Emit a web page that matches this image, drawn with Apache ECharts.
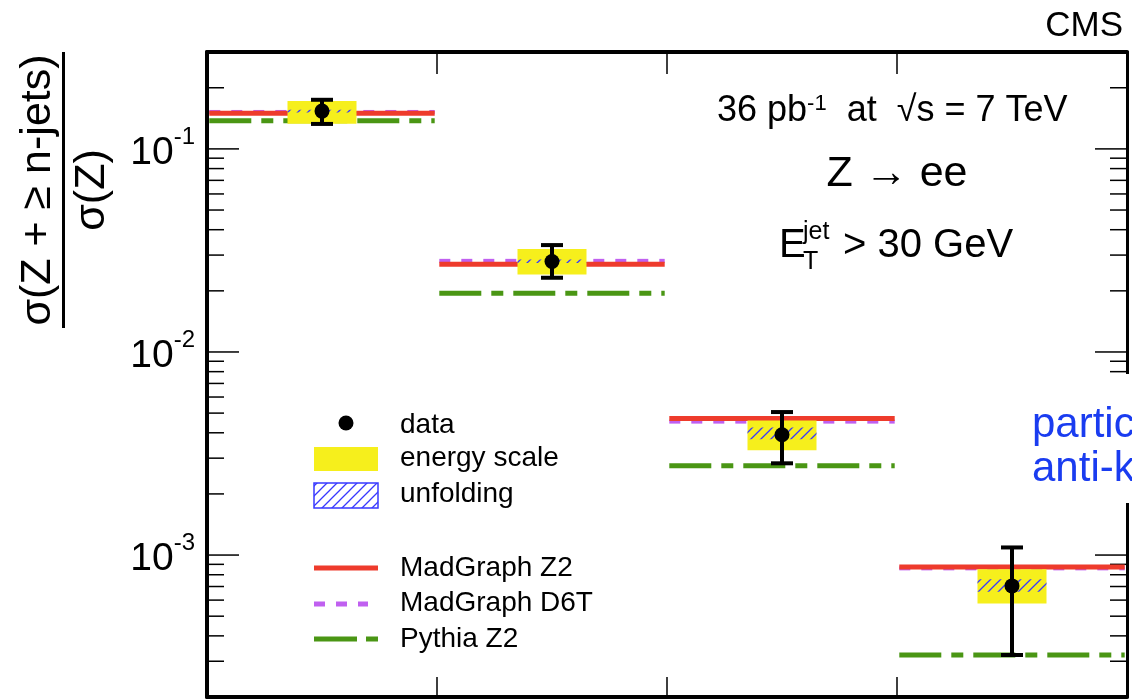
<!DOCTYPE html>
<html>
<head>
<meta charset="utf-8">
<script src="https://cdn.jsdelivr.net/npm/echarts@6/dist/echarts.min.js"></script>
<style>
html, body { margin: 0; padding: 0; background: #fff; }
#main { width: 1132px; height: 699px; }
</style>
</head>
<body>
<div id="main"></div>
<script>
// 喷注数 n (Z + >= n jets)
var nJets = [1, 2, 3, 4]
// 测量值及总误差
var dataVal = [0.1535, 0.0279, 0.00391, 0.000705]
var errHigh = [0.1745, 0.0336, 0.00506, 0.00109]
var errLow = [0.1327, 0.0232, 0.00283, 0.000322]
// 能标不确定度 (黄色)
var escaleHigh = [0.172, 0.0321, 0.00460, 0.000851]
var escaleLow = [0.133, 0.0241, 0.00328, 0.000577]
// unfolding 不确定度 (蓝色斜线)
var unfoldHigh = [0.156, 0.0285, 0.00425, 0.00076]
var unfoldLow = [0.151, 0.0274, 0.00372, 0.00066]
// 理论预测
var madZ2 = [0.1496, 0.0270, 0.00471, 0.000873]
var madD6T = [0.152, 0.0281, 0.00454, 0.00086]
var pythiaZ2 = [0.1377, 0.01945, 0.00275, 0.000322]
// 坐标轴刻度
var yMajorTicks = [0.001, 0.01, 0.1]
var yMinorTicks = [0.0002, 0.0003, 0.0004, 0.0005, 0.0006, 0.0007, 0.0008, 0.0009,
    0.002, 0.003, 0.004, 0.005, 0.006, 0.007, 0.008, 0.009,
    0.02, 0.03, 0.04, 0.05, 0.06, 0.07, 0.08, 0.09, 0.2]
var xTicks = [1.5, 2.5, 3.5]

var FONT = '"Liberation Sans", Arial, Helvetica, sans-serif'
var RED = '#ee3b2c'
var PURPLE = '#c060f0'
var GREEN = '#4a9614'
var YELLOW = '#f6ef1c'
var HATCH = '#3838ff'

var dom = document.getElementById('main')
var myChart = echarts.init(dom)

// 斜线填充
function makeHatch(bg) {
    var c = document.createElement('canvas')
    c.width = 10
    c.height = 10
    var ctx = c.getContext('2d')
    if (bg) {
        ctx.fillStyle = bg
        ctx.fillRect(0, 0, 10, 10)
    }
    ctx.strokeStyle = HATCH
    ctx.lineWidth = 1.3
    ctx.beginPath()
    ctx.moveTo(0, 10); ctx.lineTo(10, 0)
    ctx.moveTo(-3, 3); ctx.lineTo(3, -3)
    ctx.moveTo(7, 13); ctx.lineTo(13, 7)
    ctx.stroke()
    return c
}
var hatchFill = { image: makeHatch(null), repeat: 'repeat' }
var hatchFillLegend = { image: makeHatch('#ffffff'), repeat: 'repeat' }

// 误差带方框
function boxRender(style) {
    return function (params, api) {
        var n = api.value(0)
        var p1 = api.coord([n - 0.15, api.value(1)])
        var p2 = api.coord([n + 0.15, api.value(2)])
        return {
            type: 'rect',
            shape: { x: p1[0], y: p2[1], width: p2[0] - p1[0], height: p1[1] - p2[1] },
            style: style
        }
    }
}

// 理论预测水平线
function lineRender(style) {
    return function (params, api) {
        var n = api.value(0)
        var a = api.coord([n - 0.49, api.value(1)])
        var b = api.coord([n + 0.49, api.value(1)])
        return {
            type: 'line',
            shape: { x1: a[0], y1: a[1], x2: b[0], y2: b[1] },
            style: style
        }
    }
}

function buildSeries(arr) {
    return nJets.map(function (n, i) { return [n, arr[i]] })
}

function getOption() {
    return {
        backgroundColor: '#ffffff',
        animation: false,
        grid: { left: 207, right: 5, top: 52, bottom: 2 },
        xAxis: [{
            type: 'value', min: 0.5, max: 4.5, position: 'bottom',
            axisLine: { show: true, onZero: false, lineStyle: { color: '#000', width: 4 } },
            axisTick: { show: true, inside: true, length: 20, customValues: xTicks, lineStyle: { color: '#000', width: 1.5 } },
            axisLabel: { show: false },
            splitLine: { show: false }
        }, {
            type: 'value', min: 0.5, max: 4.5, position: 'top',
            axisLine: { show: true, onZero: false, lineStyle: { color: '#000', width: 4 } },
            axisTick: { show: true, inside: true, length: 22, customValues: xTicks, lineStyle: { color: '#000', width: 1.5 } },
            axisLabel: { show: false },
            splitLine: { show: false }
        }],
        yAxis: [{
            type: 'log', logBase: 10, min: 0.0002, max: 0.3, position: 'left',
            axisLine: { show: true, lineStyle: { color: '#000', width: 4 } },
            axisTick: { show: false },
            splitLine: { show: false },
            axisLabel: {
                margin: 12,
                showMinLabel: false,
                showMaxLabel: false,
                formatter: function (v) {
                    var e = Math.log10(v)
                    var r = Math.round(e)
                    if (Math.abs(e - r) > 1e-6) return ''
                    return '{b|10}{s|' + r + '}'
                },
                rich: {
                    b: { fontFamily: FONT, fontSize: 39, color: '#000', verticalAlign: 'bottom', padding: [8, 0, 0, 0] },
                    s: { fontFamily: FONT, fontSize: 24, color: '#000', verticalAlign: 'top' }
                }
            }
        }, {
            type: 'log', logBase: 10, min: 0.0002, max: 0.3, position: 'right',
            axisLine: { show: true, lineStyle: { color: '#000', width: 3 } },
            axisTick: { show: false },
            splitLine: { show: false },
            axisLabel: { show: false }
        }],
        series: [
            {
                // y 轴主次刻度 (左右两侧)
                type: 'custom', name: 'ticks', silent: true,
                data: yMajorTicks.map(function (v) { return [v, 1] })
                    .concat(yMinorTicks.map(function (v) { return [v, 0] })),
                encode: { y: 0 },
                renderItem: function (params, api) {
                    var v = api.value(0)
                    var len = api.value(1) ? 32 : 17
                    var l = api.coord([0.5, v])
                    var r = api.coord([4.5, v])
                    var st = { stroke: '#000', lineWidth: 1.5 }
                    return {
                        type: 'group',
                        children: [
                            { type: 'line', shape: { x1: l[0], y1: l[1], x2: l[0] + len, y2: l[1] }, style: st },
                            { type: 'line', shape: { x1: r[0] - len, y1: r[1], x2: r[0], y2: r[1] }, style: st }
                        ]
                    }
                },
                z: 1
            },
            {
                type: 'custom', name: 'Pythia Z2', silent: true,
                data: buildSeries(pythiaZ2),
                renderItem: lineRender({ stroke: GREEN, lineWidth: 5, lineDash: [42, 10, 12, 10] }),
                z: 2
            },
            {
                type: 'custom', name: 'MadGraph D6T', silent: true,
                data: buildSeries(madD6T),
                renderItem: lineRender({ stroke: PURPLE, lineWidth: 4, lineDash: [11, 11] }),
                z: 2
            },
            {
                type: 'custom', name: 'MadGraph Z2', silent: true,
                data: buildSeries(madZ2),
                renderItem: lineRender({ stroke: RED, lineWidth: 5 }),
                z: 3
            },
            {
                type: 'custom', name: 'energy scale', silent: true,
                data: nJets.map(function (n, i) { return [n, escaleLow[i], escaleHigh[i]] }),
                renderItem: boxRender({ fill: YELLOW }),
                z: 4
            },
            {
                type: 'custom', name: 'unfolding', silent: true,
                data: nJets.map(function (n, i) { return [n, unfoldLow[i], unfoldHigh[i]] }),
                renderItem: boxRender({ fill: hatchFill }),
                z: 5
            },
            {
                type: 'custom', name: 'data', silent: true,
                data: nJets.map(function (n, i) { return [n, dataVal[i], errLow[i], errHigh[i]] }),
                renderItem: function (params, api) {
                    var n = api.value(0)
                    var c = api.coord([n, api.value(1)])
                    var lo = api.coord([n, api.value(2)])
                    var hi = api.coord([n, api.value(3)])
                    var st = { stroke: '#000', lineWidth: 4 }
                    return {
                        type: 'group',
                        children: [
                            { type: 'line', shape: { x1: c[0], y1: lo[1], x2: c[0], y2: hi[1] }, style: st },
                            { type: 'line', shape: { x1: c[0] - 11, y1: lo[1], x2: c[0] + 11, y2: lo[1] }, style: st },
                            { type: 'line', shape: { x1: c[0] - 11, y1: hi[1], x2: c[0] + 11, y2: hi[1] }, style: st },
                            { type: 'circle', shape: { cx: c[0], cy: c[1], r: 7.5 }, style: { fill: '#000' } }
                        ]
                    }
                },
                z: 6
            }
        ],
        graphic: [
            // y 轴标题
            {
                type: 'text', x: 38, y: 190, rotation: Math.PI / 2,
                style: { text: 'σ(Z + ≥ n-jets)', fontFamily: FONT, fontSize: 43, fill: '#000', textAlign: 'center', textVerticalAlign: 'middle' }
            },
            { type: 'rect', shape: { x: 62, y: 52, width: 3, height: 276 }, style: { fill: '#000' } },
            {
                type: 'text', x: 92, y: 190, rotation: Math.PI / 2,
                style: { text: 'σ(Z)', fontFamily: FONT, fontSize: 43, fill: '#000', textAlign: 'center', textVerticalAlign: 'middle' }
            },
            // CMS
            {
                type: 'text', x: 1123, y: 26,
                style: { text: 'CMS', fontFamily: FONT, fontSize: 35, fill: '#000', textAlign: 'right', textVerticalAlign: 'middle' }
            },
            // 说明文字
            {
                type: 'text', x: 717, y: 111,
                style: {
                    text: '{m|36 pb}{s|-1}{m|  at  √s = 7 TeV}', textAlign: 'left', textVerticalAlign: 'middle',
                    rich: {
                        m: { fontFamily: FONT, fontSize: 36, fill: '#000', verticalAlign: 'bottom' },
                        s: { fontFamily: FONT, fontSize: 22, fill: '#000', verticalAlign: 'top' }
                    }
                }
            },
            {
                type: 'text', x: 897, y: 174,
                style: { text: 'Z → ee', fontFamily: FONT, fontSize: 43, fill: '#000', textAlign: 'center', textVerticalAlign: 'middle' }
            },
            {
                type: 'text', x: 779, y: 266,
                style: { text: 'E', fontFamily: FONT, fontSize: 40, fill: '#000', textAlign: 'left', textVerticalAlign: 'bottom' }
            },
            {
                type: 'text', x: 803, y: 245,
                style: { text: 'jet', fontFamily: FONT, fontSize: 25, fill: '#000', textAlign: 'left', textVerticalAlign: 'bottom' }
            },
            {
                type: 'text', x: 803, y: 250,
                style: { text: 'T', fontFamily: FONT, fontSize: 25, fill: '#000', textAlign: 'left', textVerticalAlign: 'top' }
            },
            {
                type: 'text', x: 843, y: 266,
                style: { text: '> 30 GeV', fontFamily: FONT, fontSize: 40, fill: '#000', textAlign: 'left', textVerticalAlign: 'bottom' }
            },
            // 图例
            { type: 'circle', shape: { cx: 346, cy: 423, r: 7.5 }, style: { fill: '#000' } },
            { type: 'rect', shape: { x: 314, y: 447, width: 64, height: 24 }, style: { fill: YELLOW } },
            { type: 'rect', shape: { x: 314, y: 483, width: 64, height: 25 }, style: { fill: hatchFillLegend, stroke: HATCH, lineWidth: 1.5 } },
            { type: 'line', shape: { x1: 314, y1: 568, x2: 378, y2: 568 }, style: { stroke: RED, lineWidth: 5 } },
            { type: 'line', shape: { x1: 314, y1: 604, x2: 368, y2: 604 }, style: { stroke: PURPLE, lineWidth: 5, lineDash: [11, 11] } },
            { type: 'line', shape: { x1: 314, y1: 639, x2: 378, y2: 639 }, style: { stroke: GREEN, lineWidth: 5, lineDash: [43, 9, 12, 10] } },
            { type: 'text', x: 400, y: 425, style: { text: 'data', fontFamily: FONT, fontSize: 28, fill: '#000', textVerticalAlign: 'middle' } },
            { type: 'text', x: 400, y: 458, style: { text: 'energy scale', fontFamily: FONT, fontSize: 28, fill: '#000', textVerticalAlign: 'middle' } },
            { type: 'text', x: 400, y: 494, style: { text: 'unfolding', fontFamily: FONT, fontSize: 28, fill: '#000', textVerticalAlign: 'middle' } },
            { type: 'text', x: 400, y: 568, style: { text: 'MadGraph Z2', fontFamily: FONT, fontSize: 28, fill: '#000', textVerticalAlign: 'middle' } },
            { type: 'text', x: 400, y: 603, style: { text: 'MadGraph D6T', fontFamily: FONT, fontSize: 28, fill: '#000', textVerticalAlign: 'middle' } },
            { type: 'text', x: 400, y: 639, style: { text: 'Pythia Z2', fontFamily: FONT, fontSize: 28, fill: '#000', textVerticalAlign: 'middle' } },
            // 右侧蓝色标注 (白底)
            { type: 'rect', z: 50, shape: { x: 955, y: 374, width: 177, height: 129 }, style: { fill: '#ffffff' } },
            { type: 'text', z: 51, x: 1032, y: 446, style: { text: 'particle level', fontFamily: FONT, fontSize: 42, fill: '#1a3cf0', textVerticalAlign: 'bottom' } },
            { type: 'text', z: 51, x: 1032, y: 490, style: { text: 'anti-kT', fontFamily: FONT, fontSize: 42, fill: '#1a3cf0', textVerticalAlign: 'bottom' } }
        ]
    }
}

myChart.setOption(getOption())
</script>
</body>
</html>
